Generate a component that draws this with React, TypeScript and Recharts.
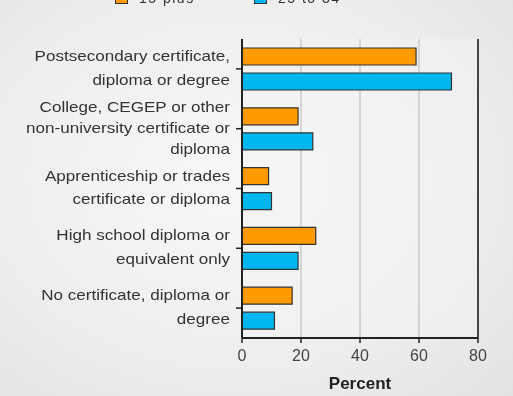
import { BarChart, Bar, XAxis, YAxis, CartesianGrid, ReferenceLine } from "recharts";

const CATEGORIES = [
  "Postsecondary certificate,\ndiploma or degree",
  "College, CEGEP or other\nnon-university certificate or\ndiploma",
  "Apprenticeship or trades\ncertificate or diploma",
  "High school diploma or\nequivalent only",
  "No certificate, diploma or\ndegree",
];
const AGE_15_PLUS = [59, 19, 9, 25, 17];
const AGE_25_TO_34 = [71, 24, 10, 19, 11];
const X_TICKS = [0, 20, 40, 60, 80];
const SERIES_NAMES = ["15 plus", "25 to 34"];

const ORANGE = "#FF9A00";
const BLUE = "#00B6EE";
const FONT = "'Liberation Sans', Arial, sans-serif";

const data = CATEGORIES.map((name, i) => ({
  name,
  a: AGE_15_PLUS[i],
  b: AGE_25_TO_34[i],
}));

const YTick = ({ x, y, payload }: { x?: number; y?: number; payload?: { value: string } }) => {
  const lines = String(payload?.value ?? "").split("\n");
  const gap = lines.length === 3 ? 21 : 24;
  const px = x ?? 0;
  const py = y ?? 0;
  return (
    <g transform={`translate(${px},${py}) scale(1.22,1)`}>
      <text textAnchor="end" fontFamily={FONT} fontSize={14} fill="#333">
        {lines.map((l, i) => (
          <tspan key={i} x={0} y={(i - (lines.length - 1) / 2) * gap - 1 + 5}>
            {l}
          </tspan>
        ))}
      </text>
    </g>
  );
};

export default function App() {
  return (
    <div
      style={{
        position: "fixed",
        left: 0,
        top: 0,
        width: 513,
        height: 396,
        overflow: "hidden",
        background: "radial-gradient(ellipse at 45% 45%, #f8f8f8 0%, #eeeeee 60%, #e2e2e2 100%)",
        fontFamily: FONT,
      }}
    >
      {/* legend, cut off at the top of the picture */}
      <div style={{ position: "absolute", top: -10, left: 0, width: 513, height: 16 }}>
        {SERIES_NAMES.map((n, i) => (
          <div
            key={n}
            style={{ position: "absolute", left: i === 0 ? 115 : 254, top: 0, display: "flex", alignItems: "center" }}
          >
            <div
              style={{
                width: 13,
                height: 12,
                background: i === 0 ? ORANGE : BLUE,
                border: "1px solid #333",
                boxSizing: "border-box",
              }}
            />
            <span style={{ marginLeft: 11, fontSize: 14, lineHeight: "16px", color: "#333", letterSpacing: 1.5 }}>{n}</span>
          </div>
        ))}
      </div>

      <BarChart
        width={513}
        height={396}
        data={data}
        layout="vertical"
        margin={{ top: 39, right: 35, bottom: 0, left: 0 }}
        barSize={17}
        barGap={8}
      >
        <CartesianGrid horizontal={false} stroke="#b8b8b8" fill="#f3f3f3" fillOpacity={0.5} />
        <XAxis
          type="number"
          domain={[0, 80]}
          ticks={X_TICKS}
          height={58}
          tickSize={5}
          tickMargin={7}
          axisLine={{ stroke: "#222", strokeWidth: 2 }}
          tickLine={{ stroke: "#222", strokeWidth: 1.5 }}
          tick={{ fill: "#444", fontSize: 16, fontFamily: FONT }}
          label={{
            value: "Percent",
            position: "insideBottom",
            offset: 7,
            fill: "#222",
            fontSize: 17,
            fontWeight: "bold",
            fontFamily: FONT,
          }}
        />
        <XAxis
          xAxisId="top"
          orientation="top"
          type="number"
          domain={[0, 80]}
          height={0}
          tick={false}
          tickLine={false}
          axisLine={{ stroke: "#333", strokeWidth: 1.5 }}
        />
        <YAxis
          type="category"
          dataKey="name"
          width={242}
          tickSize={6}
          tickMargin={6}
          axisLine={{ stroke: "#222", strokeWidth: 2 }}
          tickLine={{ stroke: "#222", strokeWidth: 1.5 }}
          tick={<YTick />}
          interval={0}
        />
        <ReferenceLine x={80} stroke="#444" strokeWidth={2} />
        <Bar dataKey="a" name={SERIES_NAMES[0]} fill={ORANGE} stroke="#333" strokeWidth={1.2} isAnimationActive={false} />
        <Bar dataKey="b" name={SERIES_NAMES[1]} fill={BLUE} stroke="#333" strokeWidth={1.2} isAnimationActive={false} />
      </BarChart>
    </div>
  );
}
